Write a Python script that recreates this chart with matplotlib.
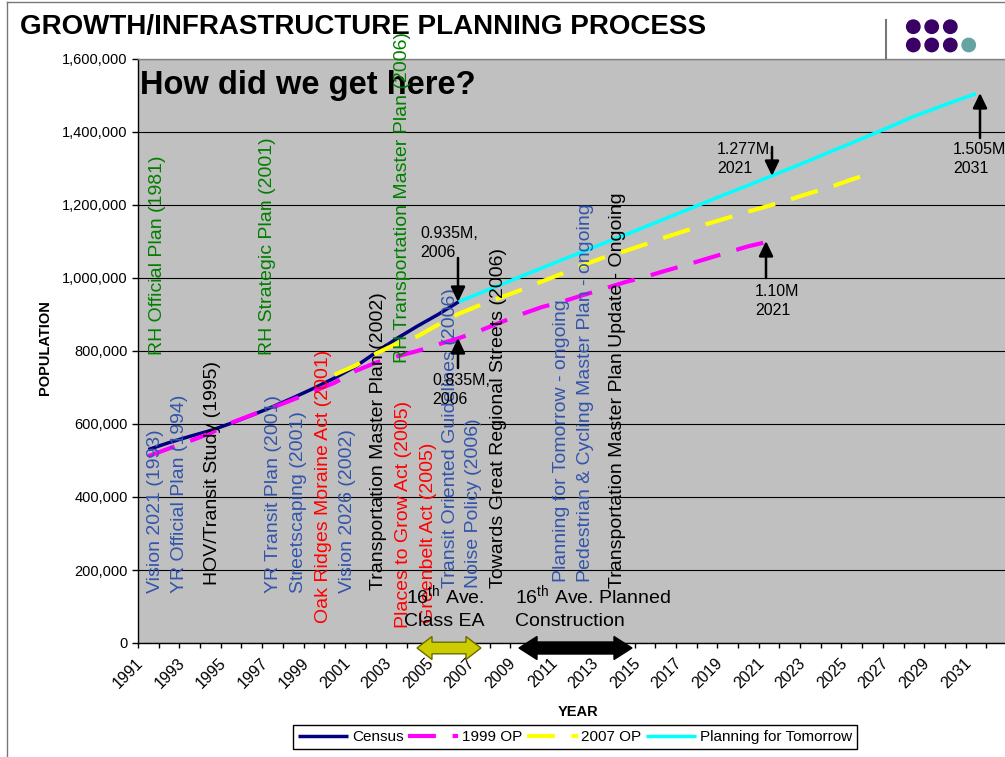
import matplotlib
matplotlib.use("Agg")
import matplotlib.pyplot as plt
from matplotlib.patches import Polygon, Circle, FancyArrowPatch
from matplotlib.lines import Line2D
from matplotlib.transforms import ScaledTranslation

plt.rcParams['font.family'] = ['Liberation Sans', 'DejaVu Sans']
plt.rcParams['mathtext.fontset'] = 'custom'
plt.rcParams['mathtext.rm'] = 'Liberation Sans'
plt.rcParams['mathtext.it'] = 'Liberation Sans:italic'
plt.rcParams['mathtext.bf'] = 'Liberation Sans:bold'

# ---------------- data ----------------
census_years = list(range(1991, 2007))
census_pop = [530000, 549000, 566000, 582000, 602000, 624000, 647000, 672000,
              698000, 726000, 757000, 796000, 834000, 868000, 900000, 935000]

op1999_years = list(range(1991, 2022))
op1999_pop = [512000, 533000, 553000, 575000, 603000, 625000, 645000, 667000,
              690000, 713000, 745000, 768000, 785000, 800000, 818000, 835000,
              855000, 878000, 900000, 920000, 935000, 953000, 970000, 988000,
              1003000, 1020000, 1036000, 1053000, 1070000, 1087000, 1100000]

op2007_years = list(range(2000, 2027))
op2007_pop = [735000, 760000, 793000, 820000, 840000, 872000, 902000, 925000,
              946000, 967000, 990000, 1012000, 1035000, 1056000, 1073000,
              1092000, 1112000, 1130000, 1148000, 1165000, 1182000, 1198000,
              1215000, 1233000, 1250000, 1270000, 1288000]

pft_years = list(range(2006, 2032))
pft_pop = [935000, 958000, 981000, 1004000, 1027000, 1050000, 1072000, 1095000,
           1117000, 1140000, 1163000, 1186000, 1209000, 1232000, 1254000,
           1277000, 1300000, 1323000, 1347000, 1370000, 1394000, 1418000,
           1443000, 1464000, 1485000, 1505000]

series_names = ['Census', '1999 OP', '2007 OP', 'Planning for Tomorrow']
category_years = list(range(1991, 2033))
label_years = list(range(1991, 2032, 2))
y_ticks = list(range(0, 1600001, 200000))

event_labels = [
    "RH Official Plan (1981)", "Vision 2021 (1993)", "YR Official Plan (1994)",
    "HOV/Transit Study (1995)", "RH Strategic Plan (2001)", "YR Transit Plan (2001)",
    "Streetscaping (2001)", "Oak Ridges Moraine Act (2001)", "Vision 2026 (2002)",
    "Transportation Master Plan (2002)", "Places to Grow Act (2005)",
    "RH Transportation Master Plan (2006)", "Greenbelt Act (2005)",
    "Transit Oriented Guidelines (2006)", "Noise Policy (2006)",
    "Towards Great Regional Streets (2006)", "Planning for Tomorrow - ongoing",
    "Pedestrian & Cycling Master Plan - ongoing",
    "Transportation Master Plan Update - Ongoing",
]

# ---------------- styling / layout ----------------
W, H = 1005, 757
GREEN, BLUE, RED, BLACK = '#007F00', '#3355AA', '#FF0000', '#000000'
event_styles = [  # colour, column centre x (px), bottom y (px)
    (GREEN, 157, 355), (BLUE, 155, 593), (BLUE, 180, 593),
    (BLACK, 212, 585), (GREEN, 267, 355), (BLUE, 273, 593),
    (BLUE, 298, 593), (RED, 323, 623), (BLUE, 347, 593),
    (BLACK, 378, 590), (RED, 403, 628),
    (GREEN, 402, 363), (RED, 428, 623),
    (BLUE, 450, 588), (BLUE, 473, 588),
    (BLACK, 498, 588), (BLUE, 562, 582),
    (BLUE, 585, 582),
    (BLACK, 617, 588),
]

def fx(x):
    return x / W

def fy(y):
    return 1 - y / H

fig = plt.figure(figsize=(W / 100, H / 100), dpi=100)
ax = fig.add_axes([fx(138), fy(643), (1007 - 138) / W, (643 - 59) / H])
ax.set_facecolor('#C0C0C0')
ax.set_xlim(1990.5, 2032.5)
ax.set_ylim(0, 1600000)

for s in ['top', 'right']:
    ax.spines[s].set_color('#808080')
    ax.spines[s].set_linewidth(1)
for s in ['left', 'bottom']:
    ax.spines[s].set_color('black')
    ax.spines[s].set_linewidth(1)

ax.set_yticks(y_ticks)
ax.set_yticklabels([f"{v:,}" for v in y_ticks], fontsize=10.5)
ax.yaxis.grid(True, color='black', linewidth=0.8)
ax.set_axisbelow(True)
ax.tick_params(axis='y', direction='out', length=4.5, width=1, pad=3)

ax.set_xticks([y - 0.5 for y in category_years] + [category_years[-1] + 0.5])
ax.set_xticklabels([])
ax.set_xticks(label_years, minor=True)
ax.set_xticklabels([str(y) for y in label_years], minor=True, rotation=45,
                   ha='right', fontsize=11.5)
ax.tick_params(axis='x', which='major', direction='out', length=3.5, width=1)
ax.tick_params(axis='x', which='minor', length=0, pad=9)
for lbl in ax.get_xticklabels(minor=True):
    lbl.set_transform(lbl.get_transform() + ScaledTranslation(-2 / 100, 0, fig.dpi_scale_trans))

# series
l1, = ax.plot(census_years, census_pop, color='#000080', lw=2.5, label=series_names[0],
              solid_capstyle='butt', zorder=3)
l2, = ax.plot(op1999_years, op1999_pop, color='#FF00FF', lw=3, dashes=(6.7, 4.0),
              label=series_names[1], dash_capstyle='butt', zorder=4)
l3, = ax.plot(op2007_years, op2007_pop, color='#FFFF00', lw=3, dashes=(6.7, 4.0),
              label=series_names[2], dash_capstyle='butt', zorder=5)
l4, = ax.plot(pft_years, pft_pop, color='#00FFFF', lw=2.5, label=series_names[3],
              solid_capstyle='butt', zorder=6)

# ---------------- texts ----------------
fig.text(fx(20), fy(34), 'GROWTH/INFRASTRUCTURE PLANNING PROCESS', fontsize=20,
         fontweight='bold', va='baseline', ha='left')
fig.text(fx(140), fy(94), 'How did we get here?', fontsize=23.5, fontweight='bold',
         va='baseline', ha='left', zorder=2)

for txt, (col, xc, yb) in zip(event_labels, event_styles):
    fig.text(fx(xc), fy(yb), txt, rotation=90, color=col, fontsize=14,
             ha='center', va='bottom', zorder=5)

# value annotations
notes = [("0.935M,\n2006", 420, 243), ("0.835M,\n2006", 432, 390),
         ("1.277M,\n2021", 717, 159), ("1.10M\n2021", 755, 301),
         ("1.505M,\n2031", 953, 159)]
for txt, x, y in notes:
    fig.text(fx(x), fy(y), txt, fontsize=11.5, ha='left', va='center',
             linespacing=1.3, zorder=6)

arrows = [((458, 258), (458, 302)), ((458, 368), (458, 338)),
          ((772, 147), (772, 176)), ((766, 278), (766, 241)),
          ((980, 138), (980, 93))]
for (x0, y0), (x1, y1) in arrows:
    fig.add_artist(FancyArrowPatch((fx(x0), fy(y0)), (fx(x1), fy(y1)),
                                   transform=fig.transFigure,
                                   arrowstyle='-|>,head_length=9,head_width=4.3',
                                   mutation_scale=1, lw=1.8, color='black',
                                   shrinkA=0, shrinkB=0, zorder=7))

# 16th Ave texts
fig.text(fx(406), fy(603), r'16$^{\rm th}$ Ave.', fontsize=14, va='baseline', zorder=6)
fig.text(fx(404), fy(626), 'Class EA', fontsize=14, va='baseline', zorder=6)
fig.text(fx(515), fy(603), r'16$^{\rm th}$ Ave. Planned', fontsize=14, va='baseline', zorder=6)
fig.text(fx(515), fy(626), 'Construction', fontsize=14, va='baseline', zorder=6)


def double_arrow(x0, x1, yc, sh, hh, hl, fc, ec):
    pts = [(x0, yc), (x0 + hl, yc - hh), (x0 + hl, yc - sh), (x1 - hl, yc - sh),
           (x1 - hl, yc - hh), (x1, yc), (x1 - hl, yc + hh), (x1 - hl, yc + sh),
           (x0 + hl, yc + sh), (x0 + hl, yc + hh)]
    fig.add_artist(Polygon([(fx(a), fy(b)) for a, b in pts], closed=True,
                           transform=fig.transFigure, facecolor=fc, edgecolor=ec,
                           lw=1, zorder=6))

double_arrow(417, 481, 648, 5.8, 11.5, 15, '#CCCC00', '#6B6B00')
double_arrow(519, 632, 648, 6.0, 11.5, 18, '#000000', '#000000')

# axis titles
fig.text(fx(45), fy(348), 'POPULATION', rotation=90, fontsize=10.5, fontweight='bold',
         ha='center', va='center')
fig.text(fx(578), fy(712), 'YEAR', fontsize=10.5, fontweight='bold', ha='center', va='center')

# legend
leg = fig.legend([l1, l2, l3, l4], series_names, loc='center',
                 bbox_to_anchor=(fx(575), fy(737)), ncol=4, fontsize=11,
                 frameon=True, fancybox=False, edgecolor='black', framealpha=1,
                 handlelength=3.3, handletextpad=0.25, columnspacing=0.3,
                 borderpad=0.3, borderaxespad=0)
leg.get_frame().set_linewidth(1)

# slide decorations: frame and logo
fig.add_artist(Line2D([fx(7), fx(1005)], [fy(2), fy(2)], color='#777777', lw=1))
fig.add_artist(Line2D([fx(7), fx(7)], [fy(2), fy(757)], color='#777777', lw=1))
fig.add_artist(Line2D([fx(885.5), fx(885.5)], [fy(20), fy(58)], color='#777777', lw=1.5))
for (cx, cy, col) in [(913.3, 26.7, '#3B0066'), (931.7, 26.7, '#3B0066'), (950.3, 26.7, '#3B0066'),
                      (913.3, 45, '#3B0066'), (931.7, 45, '#3B0066'), (950.3, 45, '#3B0066'),
                      (968.7, 45, '#66A3A3')]:
    fig.add_artist(Circle((cx, H - cy), 6.7, transform=None, color=col, zorder=1))

fig.savefig('out.png', dpi=100)
